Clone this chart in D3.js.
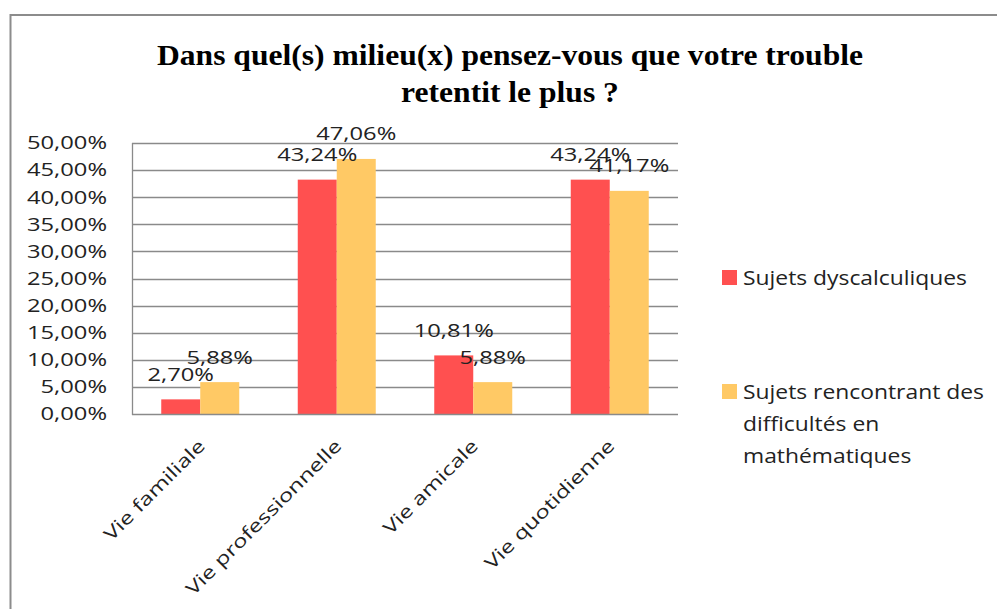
<!DOCTYPE html>
<html>
<head>
<meta charset="utf-8">
<script src="https://cdn.jsdelivr.net/npm/d3@7"></script>
<style>
  html, body { margin: 0; padding: 0; background: #fff; }
  svg { display: block; }
</style>
</head>
<body>
<svg id="chart" width="997" height="609"></svg>
<script>
// ---- data ----
const categories = ["Vie familiale", "Vie professionnelle", "Vie amicale", "Vie quotidienne"];
const seriesNames = ["Sujets dyscalculiques", "Sujets rencontrant des difficultés en mathématiques"];
const dyscalculiques = [2.70, 43.24, 10.81, 43.24];
const difficultes = [5.88, 47.06, 5.88, 41.17];
const yTicks = [0, 5, 10, 15, 20, 25, 30, 35, 40, 45, 50];
const titleLines = ["Dans quel(s) milieu(x) pensez-vous que votre trouble", "retentit le plus ?"];
const legendLines = [["Sujets dyscalculiques"], ["Sujets rencontrant des", "difficultés en", "mathématiques"]];

// ---- styles ----
const colors = ["#FF5050", "#FFC965"];
const gridColor = "#8a8a8a";
const font = "'Open Sans', 'Noto Sans', sans-serif";
const textColor = "#222";

const svg = d3.select("#chart");

// horizontal stretch helper (the reference text is wide)
function stretch(sel, k) {
  sel.each(function () {
    const w = this.getComputedTextLength();
    this.setAttribute("textLength", (w * k).toFixed(2));
    this.setAttribute("lengthAdjust", "spacingAndGlyphs");
  });
}
function widthOf(txt, size, family, weight) {
  const t = svg.append("text").attr("font-family", family).attr("font-size", size)
    .attr("font-weight", weight || "normal").text(txt);
  const w = t.node().getComputedTextLength();
  t.remove();
  return w;
}

// outer frame
svg.append("path")
  .attr("d", "M10.5,609 V15 H997")
  .attr("fill", "none").attr("stroke", "#8c8c8c").attr("stroke-width", 2);

// plot area
const plot = { left: 132, right: 678, top: 143, bottom: 414 };
const x = d3.scaleBand().domain(categories).range([plot.left, plot.right]).padding(0);
const y = d3.scaleLinear().domain([0, 50]).range([plot.bottom, plot.top]);
const barW = x.bandwidth() / 3.5;
const xs = d3.scaleBand().domain([0, 1]).range([0, 2 * barW]).padding(0);

// gridlines
svg.append("g").selectAll("line").data(yTicks.filter(d => d > 0)).join("line")
  .attr("x1", plot.left).attr("x2", plot.right)
  .attr("y1", d => Math.round(y(d)) + 0.5).attr("y2", d => Math.round(y(d)) + 0.5)
  .attr("stroke", gridColor).attr("stroke-width", 1.3);

// axes lines
svg.append("line").attr("x1", plot.left + 0.5).attr("x2", plot.left + 0.5)
  .attr("y1", plot.top).attr("y2", plot.bottom + 1)
  .attr("stroke", gridColor).attr("stroke-width", 1.3);

// bars
const series = [dyscalculiques, difficultes];
const barG = svg.append("g");
series.forEach((vals, si) => {
  barG.selectAll(".s" + si).data(vals).join("rect")
    .attr("class", "s" + si)
    .attr("x", (d, i) => x(categories[i]) + x.bandwidth() / 2 - barW + xs(si))
    .attr("width", xs.bandwidth())
    .attr("y", d => y(d))
    .attr("height", d => y(0) - y(d))
    .attr("fill", colors[si]);
});

svg.append("line").attr("x1", plot.left).attr("x2", plot.right)
  .attr("y1", Math.round(y(0)) + 0.5).attr("y2", Math.round(y(0)) + 0.5)
  .attr("stroke", gridColor).attr("stroke-width", 1.3);

// sizing for Calibri-like wide text
const tickSize = 17.5;
const kText = 80 / widthOf("50,00%", tickSize, font);
const fmt = v => v.toFixed(2).replace(".", ",") + "%";

// y tick labels
svg.append("g").selectAll("text").data(yTicks).join("text")
  .attr("x", 107).attr("y", d => y(d)).attr("dy", "0.36em")
  .attr("text-anchor", "end").attr("font-family", font).attr("font-size", tickSize)
  .attr("fill", textColor).text(d => fmt(d))
  .call(stretch, kText);

// data labels
series.forEach((vals, si) => {
  svg.append("g").selectAll("text").data(vals).join("text")
    .attr("x", (d, i) => x(categories[i]) + x.bandwidth() / 2 - barW + xs(si) + xs.bandwidth() / 2)
    .attr("y", d => y(d) - 18.5)
    .attr("text-anchor", "middle").attr("font-family", font).attr("font-size", tickSize)
    .attr("fill", textColor).text(d => fmt(d))
    .call(stretch, kText);
});

// x labels (rotated)
const xLabSize = 18;
const kX = 134 / widthOf(categories[0], xLabSize, font);
svg.append("g").selectAll("text").data(categories).join("text")
  .attr("transform", d => `translate(${x(d) + x.bandwidth() / 2 + 6},${plot.bottom + 33}) rotate(-45)`)
  .attr("text-anchor", "end").attr("font-family", font).attr("font-size", xLabSize)
  .attr("fill", textColor).text(d => d)
  .call(stretch, kX);

// title
const titleFont = "'Liberation Serif', 'Times New Roman', serif";
const titleSize = 29;
const kTitle = 706 / widthOf(titleLines[0], titleSize, titleFont, "bold");
svg.append("g").selectAll("text").data(titleLines).join("text")
  .attr("x", 510).attr("y", (d, i) => 65 + i * 37)
  .attr("text-anchor", "middle").attr("font-family", titleFont).attr("font-weight", "bold")
  .attr("font-size", titleSize).attr("fill", "#000").text(d => d)
  .call(stretch, kTitle);

// legend
const legSize = 20.5;
const kLeg = 224 / widthOf(legendLines[0][0], legSize, font);
const legTop = [270, 384];
const leg = svg.append("g");
legendLines.forEach((lines, si) => {
  leg.append("rect").attr("x", 722).attr("y", legTop[si]).attr("width", 15).attr("height", 15)
    .attr("fill", colors[si]);
  leg.selectAll(".l" + si).data(lines).join("text")
    .attr("class", "l" + si)
    .attr("x", 743).attr("y", (d, i) => legTop[si] + 15 + i * 32)
    .attr("font-family", font).attr("font-size", legSize).attr("fill", textColor)
    .text(d => d)
    .call(stretch, kLeg);
});
</script>
</body>
</html>
